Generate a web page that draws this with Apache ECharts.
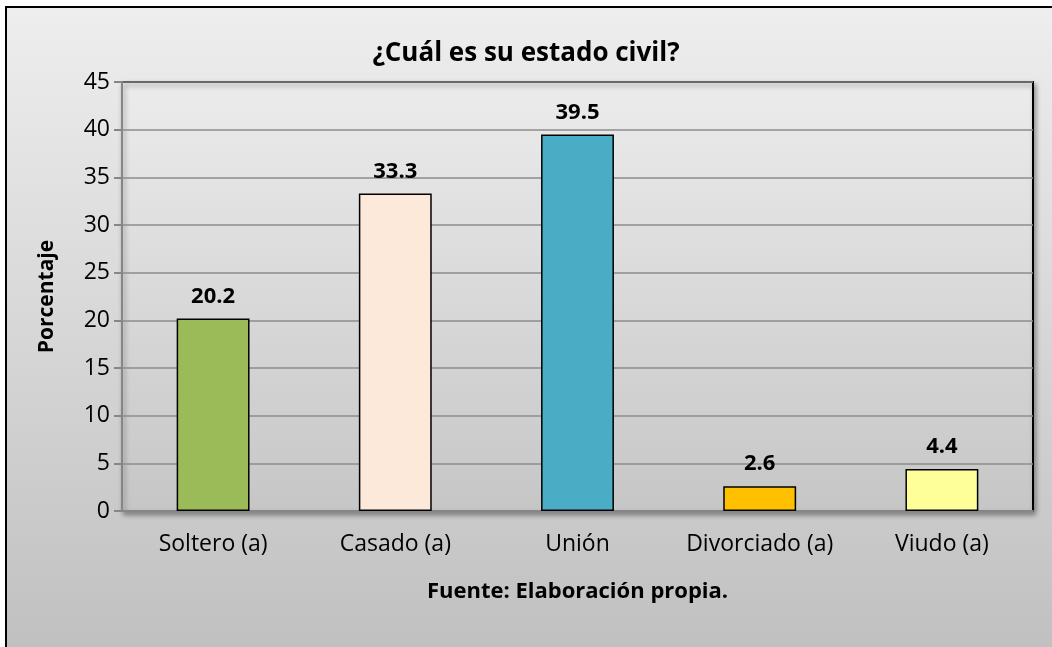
<!DOCTYPE html>
<html>
<head>
<meta charset="utf-8">
<script src="https://cdn.jsdelivr.net/npm/echarts@6/dist/echarts.min.js"></script>
<style>
  html, body { margin: 0; padding: 0; background: #fff; }
  #chart { width: 1052px; height: 647px; }
</style>
</head>
<body>
<div id="chart"></div>
<script>
// datos del gráfico
var categorias = ['Soltero (a)', 'Casado (a)', 'Unión', 'Divorciado (a)', 'Viudo (a)'];
var porcentajes = [20.2, 33.3, 39.5, 2.6, 4.4];
var colores = ['#9bbb59', '#fde9d9', '#4bacc6', '#ffc000', '#ffff99'];

var myChart = echarts.init(document.getElementById('chart'));

var option = {
    backgroundColor: '#fff',
    textStyle: { fontFamily: 'Open Sans' },
    graphic: [{
        type: 'rect',
        z: -10,
        shape: { x: 6, y: 7, width: 1100, height: 660 },
        style: {
            fill: new echarts.graphic.LinearGradient(0, 0, 0, 1, [
                { offset: 0, color: '#eeeeee' },
                { offset: 1, color: '#bfbfbf' }
            ]),
            stroke: '#000',
            lineWidth: 2
        }
    }],
    title: {
        text: '¿Cuál es su estado civil?',
        left: 'center',
        top: 36,
        textStyle: { fontFamily: 'Open Sans', fontSize: 26, fontWeight: 'bold', color: '#000' }
    },
    grid: {
        left: 122,
        top: 82,
        right: 19,
        bottom: 136,
        show: true,
        backgroundColor: new echarts.graphic.LinearGradient(0, 0, 0, 1, [
            { offset: 0, color: '#ececec' },
            { offset: 1, color: '#c6c6c6' }
        ]),
        borderColor: '#000',
        borderWidth: 2,
        shadowColor: 'rgba(0,0,0,0.35)',
        shadowBlur: 5,
        shadowOffsetX: 2,
        shadowOffsetY: 3
    },
    xAxis: {
        type: 'category',
        data: categorias,
        axisLine: { lineStyle: { color: '#868686', width: 2 } },
        axisTick: { show: false },
        axisLabel: { fontSize: 23, color: '#000', margin: 22, interval: 0 },
        name: 'Fuente: Elaboración propia.',
        nameLocation: 'middle',
        nameGap: 70,
        nameTextStyle: { fontSize: 22, fontWeight: 'bold', color: '#000' }
    },
    yAxis: {
        type: 'value',
        min: 0,
        max: 45,
        interval: 5,
        axisLine: { show: true, lineStyle: { color: '#868686', width: 2 } },
        axisTick: { show: true, length: 8, lineStyle: { color: '#868686', width: 2 } },
        axisLabel: { fontSize: 23, color: '#000', margin: 12 },
        splitLine: { lineStyle: { color: '#8c8c8c', width: 1.5 } },
        name: 'Porcentaje',
        nameLocation: 'middle',
        nameGap: 64,
        nameTextStyle: { fontSize: 21, fontWeight: 'bold', color: '#000' }
    },
    series: [{
        name: 'Porcentaje',
        type: 'bar',
        barWidth: '40%',
        data: porcentajes.map(function (v, i) {
            return { value: v, itemStyle: { color: colores[i] } };
        }),
        itemStyle: { borderColor: '#000', borderWidth: 1.5 },
        label: {
            show: true,
            position: 'top',
            distance: 11,
            fontSize: 22,
            fontWeight: 'bold',
            color: '#000',
            formatter: function (p) { return p.value.toFixed(1); }
        }
    }]
};

myChart.setOption(option);
</script>
</body>
</html>
